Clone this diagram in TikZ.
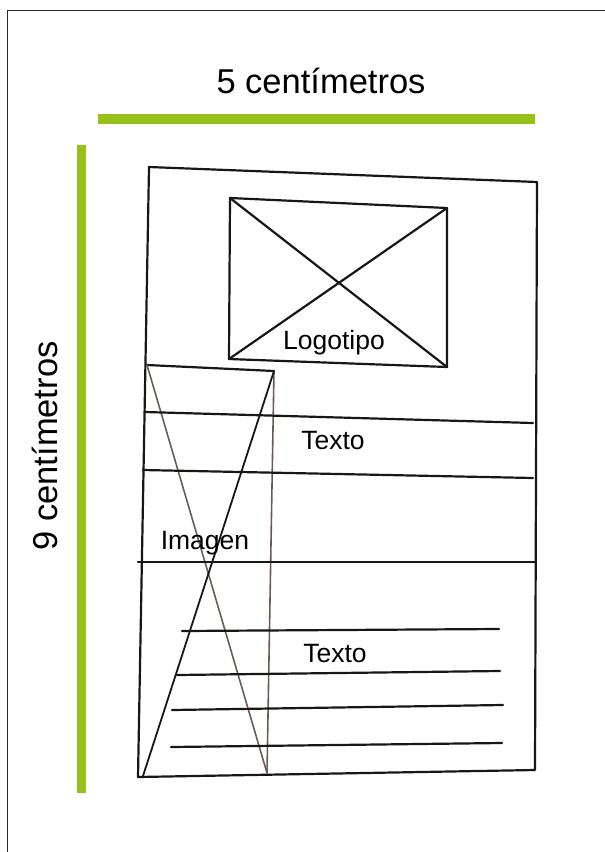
\documentclass[tikz,border=0pt]{standalone}
\usepackage{fontspec}
\setmainfont{Liberation Sans}
\definecolor{barg}{RGB}{152,192,26}
\definecolor{pen}{RGB}{25,22,22}
\definecolor{penl}{RGB}{105,92,88}
\begin{document}
\begin{tikzpicture}[x=1pt,y=-1pt,
  sk/.style={line width=2.2pt, pen, line cap=round, line join=round},
  skl/.style={line width=1.6pt, penl, line cap=round},
  lbl/.style={anchor=base, inner sep=0pt, font=\fontsize{26.5}{30}\selectfont},
  big/.style={anchor=base, inner sep=0pt, font=\fontsize{34.5}{40}\selectfont}]
\useasboundingbox (0,0) rectangle (605,852);
% frame
\draw[line width=1pt, black!85] (7,852) -- (7,10) -- (605,10);
% green bars
\fill[barg] (98,114) rectangle (535,124);
\fill[barg] (77,145) rectangle (86,793);
\node[big] (t5) at (321,93) {5 centímetros};
\node[big, rotate=90] (t9) at (57,446) {9 centímetros};
% outer sheet
\coordinate (o1) at (149,167);
\coordinate (o2) at (537,182);
\coordinate (o3) at (535,770);
\coordinate (o4) at (138,777);
\draw[sk] (o1) -- (o2) -- (o3) -- (o4) -- cycle;
% logo box
\coordinate (l1) at (230,198);
\coordinate (l2) at (447,208);
\coordinate (l3) at (447,367);
\coordinate (l4) at (229,359);
\draw[sk] (l1) -- (l2) -- (l3) -- (l4) -- cycle;
\draw[sk] (l1) -- (l3);
\draw[sk] (l4) -- (l2);
\node[lbl] (logo) at (334,349) {Logotipo};
% image box
\coordinate (i1) at (147,365);
\coordinate (i2) at (274,371);
\coordinate (i3) at (267,773);
\coordinate (i4) at (143,776);
\draw[sk] (i1) -- (i2);
\draw[skl] (i2) -- (i3);
\draw[skl] (i1) -- (i3);
\draw[sk, line width=1.8pt] (i2) -- (i4);
\node[lbl] (img) at (205,549) {Imagen};
% text lines
\coordinate (a1) at (145,412); \coordinate (a2) at (533,423);
\coordinate (b1) at (143,470); \coordinate (b2) at (533,478);
\coordinate (c1) at (138,562); \coordinate (c2) at (535,562);
\draw[sk] (a1) -- (a2);
\draw[sk] (b1) -- (b2);
\draw[sk] (c1) -- (c2);
\node[lbl] (tx1) at (333,449) {Texto};
\coordinate (d1) at (182,631); \coordinate (d2) at (499,629);
\coordinate (e1) at (177,675); \coordinate (e2) at (500,671);
\coordinate (f1) at (172,710); \coordinate (f2) at (503,705);
\coordinate (g1) at (171,747); \coordinate (g2) at (502,743);
\draw[sk] (d1) -- (d2);
\draw[sk] (e1) -- (e2);
\draw[sk] (f1) -- (f2);
\draw[sk] (g1) -- (g2);
\node[lbl] (tx2) at (335,662) {Texto};
\end{tikzpicture}
\end{document}
